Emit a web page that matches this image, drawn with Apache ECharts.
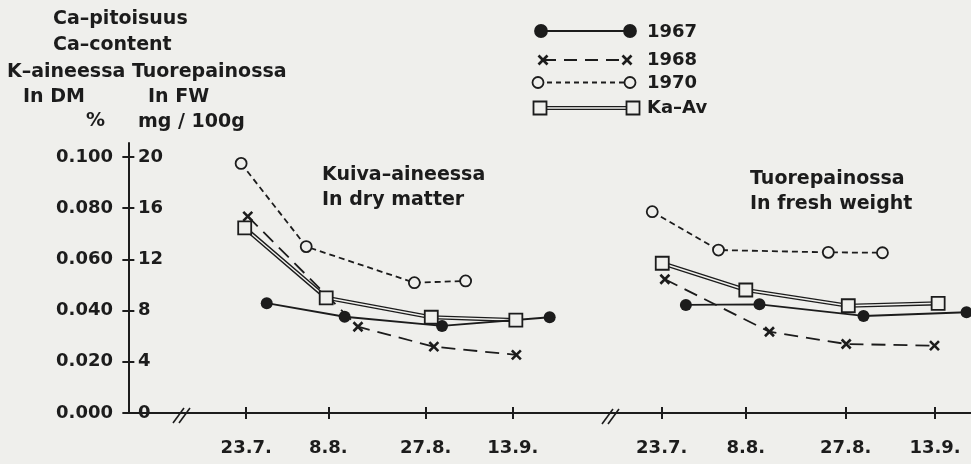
<!DOCTYPE html>
<html><head><meta charset="utf-8">
<script src="https://cdn.jsdelivr.net/npm/echarts@6/dist/echarts.min.js"></script>
<style>html,body{margin:0;padding:0;background:#efefec;}#c{width:971px;height:464px;}</style>
</head><body><div id="c"></div>
<script>
// ---- axis ticks ----
const tickDays = [23, 39, 58, 75];              // days counted from 1 July
const tickLabels = ['23.7.', '8.8.', '27.8.', '13.9.'];
const dmTicks = [0, 0.02, 0.04, 0.06, 0.08, 0.1];
const fwTicks = [0, 4, 8, 12, 16, 20];

// ---- In dry matter (% in DM) ----
const dm1967Days = [27.0, 42.2, 61.2, 82.2];
const dm1967 = [0.0429, 0.0376, 0.0340, 0.0374];
const dm1968Days = [23.3, 44.8, 59.6, 75.7];
const dm1968 = [0.0768, 0.0337, 0.0259, 0.0227];
const dm1970Days = [22.0, 34.7, 55.8, 65.8];
const dm1970 = [0.0975, 0.0650, 0.0509, 0.0516];
const dmAvDays = [22.7, 38.6, 59.1, 75.6];
const dmAv = [0.0723, 0.0450, 0.0374, 0.0363];

// ---- In fresh weight (mg/100g FW) ----
const fw1967Days = [27.6, 41.6, 61.4, 81.0];
const fw1967 = [8.44, 8.49, 7.58, 7.87];
const fw1968Days = [23.6, 43.5, 58.1, 74.9];
const fw1968 = [10.45, 6.35, 5.39, 5.26];
const fw1970Days = [21.2, 33.8, 54.7, 65.0];
const fw1970 = [15.73, 12.73, 12.55, 12.52];
const fwAvDays = [23.1, 39.0, 58.5, 75.6];
const fwAv = [11.70, 9.61, 8.38, 8.57];

const BG = '#efefec';
const INK = '#1c1c1c';
const FONT = '"DejaVu Sans", "Liberation Sans", sans-serif';
const YMAX_DM = 0.1 * 270 / 256;
const YMAX_FW = 20 * 270 / 256;

function zip(a, b) { return a.map((d, i) => [d, b[i]]); }
const crossPath = 'path://M0,0L10,10M10,0L0,10';

function panelSeries(xi, yi, d67, v67, d68, v68, d70, v70, dav, vav) {
  return [
    { type: 'line', xAxisIndex: xi, yAxisIndex: yi, data: zip(dav, vav), symbol: 'none',
      lineStyle: { color: INK, width: 4.2 }, z: 2, silent: true },
    { type: 'line', xAxisIndex: xi, yAxisIndex: yi, data: zip(dav, vav), symbol: 'none',
      lineStyle: { color: BG, width: 1.4 }, z: 3, silent: true },
    { name: '1967', type: 'line', xAxisIndex: xi, yAxisIndex: yi, data: zip(d67, v67),
      symbol: 'circle', symbolSize: 12, itemStyle: { color: INK },
      lineStyle: { color: INK, width: 1.8 }, z: 4 },
    { name: '1968', type: 'line', xAxisIndex: xi, yAxisIndex: yi, data: zip(d68, v68),
      symbol: crossPath, symbolSize: 9,
      itemStyle: { color: 'transparent', borderColor: INK, borderWidth: 2.6 },
      lineStyle: { color: INK, width: 1.8, type: [14, 8] }, z: 4 },
    { name: '1970', type: 'line', xAxisIndex: xi, yAxisIndex: yi, data: zip(d70, v70),
      symbol: 'circle', symbolSize: 11,
      itemStyle: { color: BG, borderColor: INK, borderWidth: 1.8 },
      lineStyle: { color: INK, width: 1.8, type: [6, 4] }, z: 4 },
    { name: 'Ka–Av', type: 'line', xAxisIndex: xi, yAxisIndex: yi, data: zip(dav, vav),
      symbol: 'rect', symbolSize: 13,
      itemStyle: { color: BG, borderColor: INK, borderWidth: 1.8 },
      lineStyle: { width: 0, opacity: 0 }, z: 5 }
  ];
}

const txt = { fontSize: 18, fontWeight: 'bold', fontFamily: FONT, color: INK };

function xAxes(gridIndex, min, max) {
  return [
    { gridIndex, type: 'value', min, max, position: 'bottom',
      axisLine: { show: true, lineStyle: { color: INK, width: 2 } },
      axisTick: { show: true, customValues: tickDays, length: 6, inside: false, lineStyle: { color: INK, width: 2 } },
      axisLabel: { show: true, customValues: tickDays, margin: 26,
        formatter: v => tickLabels[tickDays.indexOf(Math.round(v))] || '', ...txt },
      splitLine: { show: false } },
    { gridIndex, type: 'value', min, max, position: 'bottom',
      axisLine: { show: false },
      axisTick: { show: true, customValues: tickDays, length: 6, inside: true, lineStyle: { color: INK, width: 2 } },
      axisLabel: { show: false }, splitLine: { show: false } }
  ];
}

const option = {
  backgroundColor: BG,
  animation: false,
  grid: [
    { left: 126, top: 143, width: 486, height: 270 },
    { left: 612, top: 143, right: 0, height: 270 }
  ],
  xAxis: [
    ...xAxes(0, -0.46, 94.36),
    ...xAxes(1, 13.54, 81.85)
  ],
  yAxis: [
    { gridIndex: 0, type: 'value', min: 0, max: YMAX_DM, position: 'left',
      axisLine: { show: true, lineStyle: { color: INK, width: 2 } },
      axisTick: { show: true, customValues: dmTicks, length: 6, lineStyle: { color: INK, width: 2 } },
      axisLabel: { customValues: dmTicks, formatter: v => v.toFixed(3), margin: 13, ...txt },
      splitLine: { show: false } },
    { gridIndex: 0, type: 'value', min: 0, max: YMAX_FW, position: 'left',
      axisLine: { show: false },
      axisTick: { show: true, inside: true, customValues: fwTicks, length: 6, lineStyle: { color: INK, width: 2 } },
      axisLabel: { inside: true, customValues: fwTicks, formatter: v => String(v), margin: 12, ...txt },
      splitLine: { show: false } },
    { gridIndex: 1, type: 'value', min: 0, max: YMAX_FW, show: false }
  ],
  series: [
    ...panelSeries(0, 0, dm1967Days, dm1967, dm1968Days, dm1968, dm1970Days, dm1970, dmAvDays, dmAv),
    ...panelSeries(2, 2, fw1967Days, fw1967, fw1968Days, fw1968, fw1970Days, fw1970, fwAvDays, fwAv)
  ]
};

const F = 'bold 19px ' + FONT;
const F18 = 'bold 18px ' + FONT;
function T(text, x, y, font) {
  return { type: 'text', x, y, z: 10, style: { text, font: font || F, fill: INK, align: 'left', verticalAlign: 'middle' } };
}
function L(x1, y1, x2, y2, w, dash, color) {
  return { type: 'line', z: 10, shape: { x1, y1, x2, y2 }, style: { stroke: color || INK, lineWidth: w, lineDash: dash || null } };
}
function dot(cx, cy, r, filled) {
  return { type: 'circle', z: 11, shape: { cx, cy, r }, style: { fill: filled ? INK : BG, stroke: INK, lineWidth: 1.8 } };
}
function sq(cx, cy) {
  return { type: 'rect', z: 11, shape: { x: cx - 6.5, y: cy - 6.5, width: 13, height: 13 }, style: { fill: BG, stroke: INK, lineWidth: 1.8 } };
}
function cross(cx, cy) {
  return [L(cx - 4.5, cy - 4.5, cx + 4.5, cy + 4.5, 2.6), L(cx + 4.5, cy - 4.5, cx - 4.5, cy + 4.5, 2.6)];
}
function brk(x, y) {
  return [L(x - 10, y + 9, x + 1, y - 6, 1.6), L(x - 4, y + 9, x + 7, y - 6, 1.6)];
}

option.graphic = [
  T('Ca–pitoisuus', 53, 19),
  T('Ca–content', 53, 45),
  T('K–aineessa Tuorepainossa', 7, 72),
  T('In DM', 23, 97),
  T('In FW', 148, 97),
  T('%', 86, 121),
  T('mg / 100g', 138, 122),
  T('Kuiva–aineessa', 322, 175),
  T('In dry matter', 322, 200),
  T('Tuorepainossa', 750, 179),
  T('In fresh weight', 750, 204),
  // legend
  L(541, 31, 630, 31, 2.2), dot(541, 31, 6, true), dot(630, 31, 6, true), T('1967', 647, 32, F18),
  L(543, 60, 627, 60, 1.8, [13, 8]), ...cross(543, 60), ...cross(627, 60), T('1968', 647, 60, F18),
  L(538, 82.5, 630, 82.5, 1.8, [5, 4]), dot(538, 82.5, 5.5, false), dot(630, 82.5, 5.5, false), T('1970', 647, 83, F18),
  L(540, 108, 633, 108, 4.2), L(540, 108, 633, 108, 1.4, null, BG), sq(540, 108), sq(633, 108), T('Ka–Av', 647, 108, F18),
  // axis breaks
  ...brk(183, 414), ...brk(612, 415)
];

const chart = echarts.init(document.getElementById('c'), null, { renderer: 'canvas' });
chart.setOption(option);
</script>
</body></html>
